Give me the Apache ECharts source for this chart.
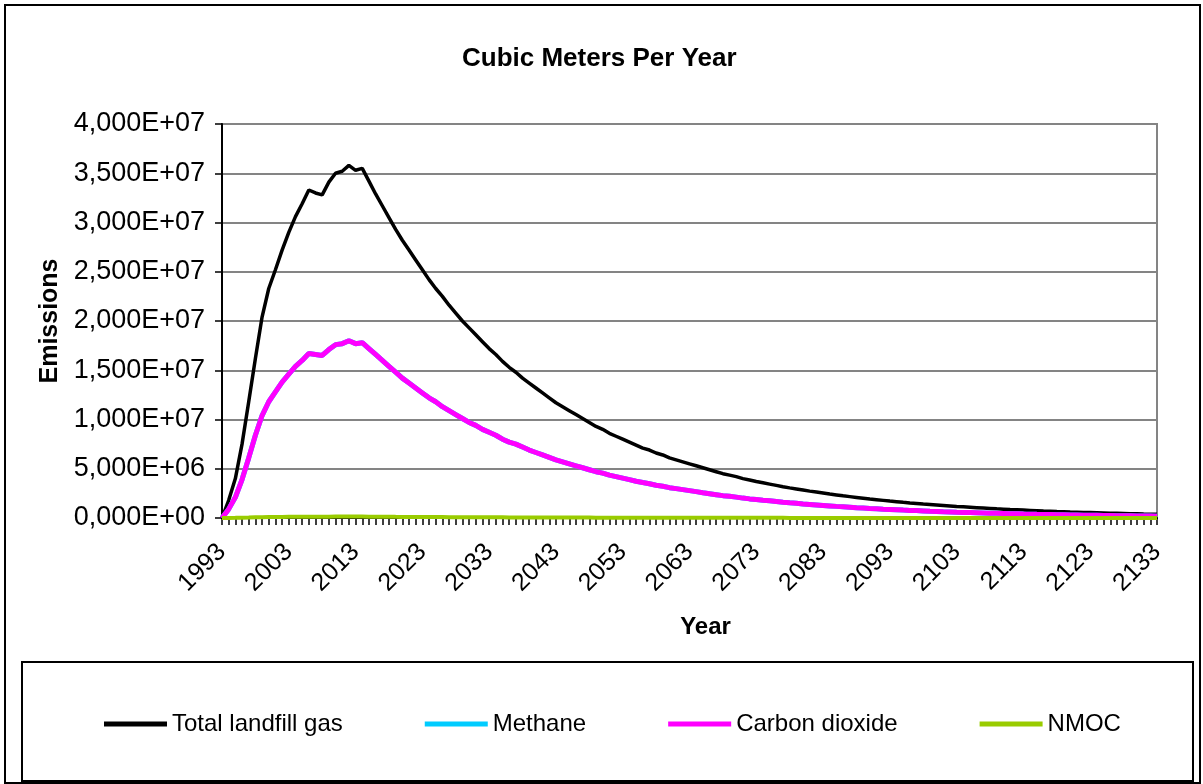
<!DOCTYPE html>
<html>
<head>
<meta charset="utf-8">
<title>Cubic Meters Per Year</title>
<script src="https://cdn.jsdelivr.net/npm/echarts@6/dist/echarts.min.js"></script>
<style>
  html, body { margin: 0; padding: 0; background: #ffffff; }
  #chart { width: 1203px; height: 784px; }
</style>
</head>
<body>
<div id="chart"></div>
<script>
// Years on the category axis, 1993 through 2133
const years = [];
for (let y = 1993; y <= 2133; y++) years.push(String(y));

// Tick labels of the value axis, one per 5,000E+06 step
const yTickLabels = [
  '0,000E+00', '5,000E+06', '1,000E+07', '1,500E+07', '2,000E+07',
  '2,500E+07', '3,000E+07', '3,500E+07', '4,000E+07'
];

// Total landfill gas, m³ per year
const totalLandfillGas = [
  0, 0.18e7, 0.40e7, 0.75e7, 1.18e7, 1.62e7, 2.04e7, 2.33e7, 2.52e7, 2.72e7,
  2.90e7, 3.06e7, 3.19e7, 3.33e7, 3.30e7, 3.28e7, 3.41e7, 3.50e7, 3.52e7, 3.58e7,
  3.53e7, 3.55e7, 3.42e7, 3.29e7, 3.17e7, 3.05e7, 2.93e7, 2.82e7, 2.72e7, 2.62e7,
  2.52e7, 2.42e7, 2.33e7, 2.25e7, 2.16e7, 2.08e7, 2.00e7, 1.93e7, 1.86e7, 1.79e7,
  1.72e7, 1.66e7, 1.59e7, 1.53e7, 1.48e7, 1.42e7, 1.37e7, 1.32e7, 1.27e7, 1.22e7,
  1.17e7, 1.13e7, 1.09e7, 1.05e7, 1.01e7, 0.97e7, 0.93e7, 0.90e7, 0.86e7, 0.83e7,
  0.80e7, 0.77e7, 0.74e7, 0.71e7, 0.69e7, 0.66e7, 0.64e7, 0.61e7, 0.59e7, 0.57e7,
  0.55e7, 0.53e7, 0.51e7, 0.49e7, 0.47e7, 0.45e7, 0.435e7, 0.42e7, 0.40e7, 0.385e7,
  0.37e7, 0.357e7, 0.344e7, 0.331e7, 0.318e7, 0.306e7, 0.295e7, 0.284e7, 0.273e7, 0.263e7,
  0.253e7, 0.243e7, 0.234e7, 0.225e7, 0.217e7, 0.209e7, 0.201e7, 0.193e7, 0.186e7, 0.179e7,
  0.172e7, 0.166e7, 0.159e7, 0.153e7, 0.148e7, 0.142e7, 0.137e7, 0.132e7, 0.127e7, 0.122e7,
  0.117e7, 0.113e7, 0.109e7, 0.105e7, 0.101e7, 0.097e7, 0.093e7, 0.090e7, 0.086e7, 0.083e7,
  0.080e7, 0.077e7, 0.074e7, 0.071e7, 0.069e7, 0.066e7, 0.064e7, 0.061e7, 0.059e7, 0.057e7,
  0.055e7, 0.053e7, 0.051e7, 0.049e7, 0.047e7, 0.045e7, 0.043e7, 0.042e7, 0.040e7, 0.039e7,
  0.037e7
];

// Methane, m³ per year
const methane = [
  0, 0.09e7, 0.21e7, 0.39e7, 0.61e7, 0.84e7, 1.04e7, 1.18e7, 1.28e7, 1.38e7,
  1.46e7, 1.54e7, 1.60e7, 1.67e7, 1.66e7, 1.65e7, 1.71e7, 1.76e7, 1.77e7, 1.80e7,
  1.77e7, 1.78e7, 1.72e7, 1.66e7, 1.60e7, 1.54e7, 1.48e7, 1.42e7, 1.37e7, 1.32e7,
  1.27e7, 1.22e7, 1.18e7, 1.13e7, 1.09e7, 1.05e7, 1.01e7, 0.97e7, 0.94e7, 0.90e7,
  0.87e7, 0.84e7, 0.80e7, 0.77e7, 0.75e7, 0.72e7, 0.69e7, 0.665e7, 0.64e7, 0.615e7,
  0.59e7, 0.57e7, 0.55e7, 0.53e7, 0.51e7, 0.49e7, 0.47e7, 0.455e7, 0.435e7, 0.42e7,
  0.405e7, 0.39e7, 0.373e7, 0.36e7, 0.348e7, 0.333e7, 0.323e7, 0.308e7, 0.298e7, 0.288e7,
  0.278e7, 0.268e7, 0.257e7, 0.247e7, 0.237e7, 0.227e7, 0.22e7, 0.212e7, 0.202e7, 0.194e7,
  0.187e7, 0.18e7, 0.174e7, 0.167e7, 0.16e7, 0.154e7, 0.149e7, 0.143e7, 0.138e7, 0.133e7,
  0.128e7, 0.123e7, 0.118e7, 0.114e7, 0.11e7, 0.105e7, 0.101e7, 0.097e7, 0.094e7, 0.09e7,
  0.087e7, 0.084e7, 0.08e7, 0.077e7, 0.075e7, 0.072e7, 0.069e7, 0.067e7, 0.064e7, 0.062e7,
  0.059e7, 0.057e7, 0.055e7, 0.053e7, 0.051e7, 0.049e7, 0.047e7, 0.045e7, 0.043e7, 0.042e7,
  0.040e7, 0.039e7, 0.037e7, 0.036e7, 0.035e7, 0.033e7, 0.032e7, 0.031e7, 0.030e7, 0.029e7,
  0.028e7, 0.027e7, 0.026e7, 0.025e7, 0.024e7, 0.023e7, 0.022e7, 0.021e7, 0.020e7, 0.0195e7,
  0.019e7
];

// Carbon dioxide, m³ per year
const carbonDioxide = [
  0, 0.09e7, 0.21e7, 0.39e7, 0.61e7, 0.84e7, 1.04e7, 1.18e7, 1.28e7, 1.38e7,
  1.46e7, 1.54e7, 1.60e7, 1.67e7, 1.66e7, 1.65e7, 1.71e7, 1.76e7, 1.77e7, 1.80e7,
  1.77e7, 1.78e7, 1.72e7, 1.66e7, 1.60e7, 1.54e7, 1.48e7, 1.42e7, 1.37e7, 1.32e7,
  1.27e7, 1.22e7, 1.18e7, 1.13e7, 1.09e7, 1.05e7, 1.01e7, 0.97e7, 0.94e7, 0.90e7,
  0.87e7, 0.84e7, 0.80e7, 0.77e7, 0.75e7, 0.72e7, 0.69e7, 0.665e7, 0.64e7, 0.615e7,
  0.59e7, 0.57e7, 0.55e7, 0.53e7, 0.51e7, 0.49e7, 0.47e7, 0.455e7, 0.435e7, 0.42e7,
  0.405e7, 0.39e7, 0.373e7, 0.36e7, 0.348e7, 0.333e7, 0.323e7, 0.308e7, 0.298e7, 0.288e7,
  0.278e7, 0.268e7, 0.257e7, 0.247e7, 0.237e7, 0.227e7, 0.22e7, 0.212e7, 0.202e7, 0.194e7,
  0.187e7, 0.18e7, 0.174e7, 0.167e7, 0.16e7, 0.154e7, 0.149e7, 0.143e7, 0.138e7, 0.133e7,
  0.128e7, 0.123e7, 0.118e7, 0.114e7, 0.11e7, 0.105e7, 0.101e7, 0.097e7, 0.094e7, 0.09e7,
  0.087e7, 0.084e7, 0.08e7, 0.077e7, 0.075e7, 0.072e7, 0.069e7, 0.067e7, 0.064e7, 0.062e7,
  0.059e7, 0.057e7, 0.055e7, 0.053e7, 0.051e7, 0.049e7, 0.047e7, 0.045e7, 0.043e7, 0.042e7,
  0.040e7, 0.039e7, 0.037e7, 0.036e7, 0.035e7, 0.033e7, 0.032e7, 0.031e7, 0.030e7, 0.029e7,
  0.028e7, 0.027e7, 0.026e7, 0.025e7, 0.024e7, 0.023e7, 0.022e7, 0.021e7, 0.020e7, 0.0195e7,
  0.019e7
];

// Non-methane organic compounds, m³ per year
const nmoc = [
  0, 7e3, 1.6e4, 3.0e4, 4.7e4, 6.5e4, 8.2e4, 9.3e4, 1.01e5, 1.09e5,
  1.16e5, 1.22e5, 1.28e5, 1.33e5, 1.32e5, 1.31e5, 1.36e5, 1.40e5, 1.41e5, 1.43e5,
  1.41e5, 1.42e5, 1.37e5, 1.32e5, 1.27e5, 1.22e5, 1.17e5, 1.13e5, 1.09e5, 1.05e5,
  1.01e5, 9.7e4, 9.3e4, 9.0e4, 8.6e4, 8.3e4, 8.0e4, 7.7e4, 7.4e4, 7.2e4,
  6.9e4, 6.6e4, 6.4e4, 6.1e4, 5.9e4, 5.7e4, 5.5e4, 5.3e4, 5.1e4, 4.9e4,
  4.7e4, 4.5e4, 4.4e4, 4.2e4, 4.0e4, 3.9e4, 3.7e4, 3.6e4, 3.4e4, 3.3e4,
  3.2e4, 3.1e4, 3.0e4, 2.8e4, 2.7e4, 2.6e4, 2.5e4, 2.4e4, 2.4e4, 2.3e4,
  2.2e4, 2.1e4, 2.0e4, 1.96e4, 1.88e4, 1.80e4, 1.74e4, 1.68e4, 1.60e4, 1.54e4,
  1.48e4, 1.43e4, 1.38e4, 1.32e4, 1.27e4, 1.22e4, 1.18e4, 1.14e4, 1.09e4, 1.05e4,
  1.01e4, 9.7e3, 9.4e3, 9.0e3, 8.7e3, 8.4e3, 8.0e3, 7.7e3, 7.4e3, 7.2e3,
  6.9e3, 6.6e3, 6.4e3, 6.1e3, 5.9e3, 5.7e3, 5.5e3, 5.3e3, 5.1e3, 4.9e3,
  4.7e3, 4.5e3, 4.4e3, 4.2e3, 4.0e3, 3.9e3, 3.7e3, 3.6e3, 3.4e3, 3.3e3,
  3.2e3, 3.1e3, 3.0e3, 2.8e3, 2.7e3, 2.6e3, 2.6e3, 2.4e3, 2.4e3, 2.3e3,
  2.2e3, 2.1e3, 2.0e3, 2.0e3, 1.9e3, 1.8e3, 1.7e3, 1.7e3, 1.6e3, 1.6e3,
  1.5e3
];

const FONT = '"Liberation Sans", Arial, Helvetica, sans-serif';

const chart = echarts.init(document.getElementById('chart'), null, { renderer: 'canvas' });

chart.setOption({
  animation: false,
  backgroundColor: '#ffffff',
  title: {
    text: 'Cubic Meters Per Year',
    left: 457,
    top: 41,
    textStyle: { fontFamily: FONT, fontSize: 26, fontWeight: 'bold', color: '#000' }
  },
  graphic: [
    {
      type: 'rect',
      silent: true,
      z: -10,
      shape: { x: 5, y: 5, width: 1195, height: 778 },
      style: { fill: 'none', stroke: '#000', lineWidth: 2 }
    },
    {
      type: 'rect',
      silent: true,
      z: -10,
      shape: { x: 22, y: 662, width: 1171, height: 119 },
      style: { fill: 'none', stroke: '#000', lineWidth: 2 }
    }
  ],
  legend: {
    left: 99,
    top: 707,
    icon: 'rect',
    itemWidth: 63,
    itemHeight: 5,
    itemGap: 82,
    textStyle: { fontFamily: FONT, fontSize: 24, color: '#000' },
    data: ['Total landfill gas', 'Methane', 'Carbon dioxide', 'NMOC']
  },
  grid: {
    left: 222,
    right: 46,
    top: 124,
    bottom: 266,
    show: true,
    borderColor: '#848484',
    borderWidth: 2,
    backgroundColor: 'transparent'
  },
  xAxis: {
    type: 'category',
    data: years,
    boundaryGap: false,
    z: 3,
    name: 'Year',
    nameLocation: 'middle',
    nameGap: 97,
    nameTextStyle: {
      fontFamily: FONT, fontSize: 24, fontWeight: 'bold', color: '#000',
      padding: [0, 0, 0, 32]
    },
    axisLine: { show: true, lineStyle: { color: '#000', width: 2 } },
    axisTick: { show: true, interval: 0, length: 7, lineStyle: { color: '#000', width: 1.5 } },
    axisLabel: {
      interval: 9,
      rotate: 45,
      margin: 30,
      fontFamily: FONT,
      fontSize: 25,
      color: '#000'
    },
    splitLine: { show: false }
  },
  yAxis: {
    type: 'value',
    min: 0,
    max: 4e7,
    interval: 5e6,
    name: 'Emissions',
    nameLocation: 'middle',
    nameGap: 157,
    nameTextStyle: { fontFamily: FONT, fontSize: 25, fontWeight: 'bold', color: '#000' },
    axisLine: { show: true, lineStyle: { color: '#000', width: 2 } },
    axisTick: { show: true, length: 7, lineStyle: { color: '#000', width: 1.5 } },
    axisLabel: {
      margin: 17,
      fontFamily: FONT,
      fontSize: 27,
      color: '#000',
      formatter: function (v) { return yTickLabels[Math.round(v / 5e6)]; }
    },
    splitLine: { show: true, lineStyle: { color: '#848484', width: 2 } }
  },
  series: [
    {
      name: 'Total landfill gas',
      type: 'line',
      data: totalLandfillGas,
      symbol: 'none',
      color: '#000000',
      lineStyle: { color: '#000000', width: 3.5 }
    },
    {
      name: 'Methane',
      type: 'line',
      data: methane,
      symbol: 'none',
      color: '#00CCFF',
      lineStyle: { color: '#00CCFF', width: 5 }
    },
    {
      name: 'Carbon dioxide',
      type: 'line',
      data: carbonDioxide,
      symbol: 'none',
      color: '#FF00FF',
      lineStyle: { color: '#FF00FF', width: 5 }
    },
    {
      name: 'NMOC',
      type: 'line',
      data: nmoc,
      symbol: 'none',
      color: '#99CC00',
      lineStyle: { color: '#99CC00', width: 4 }
    }
  ]
});
</script>
</body>
</html>
